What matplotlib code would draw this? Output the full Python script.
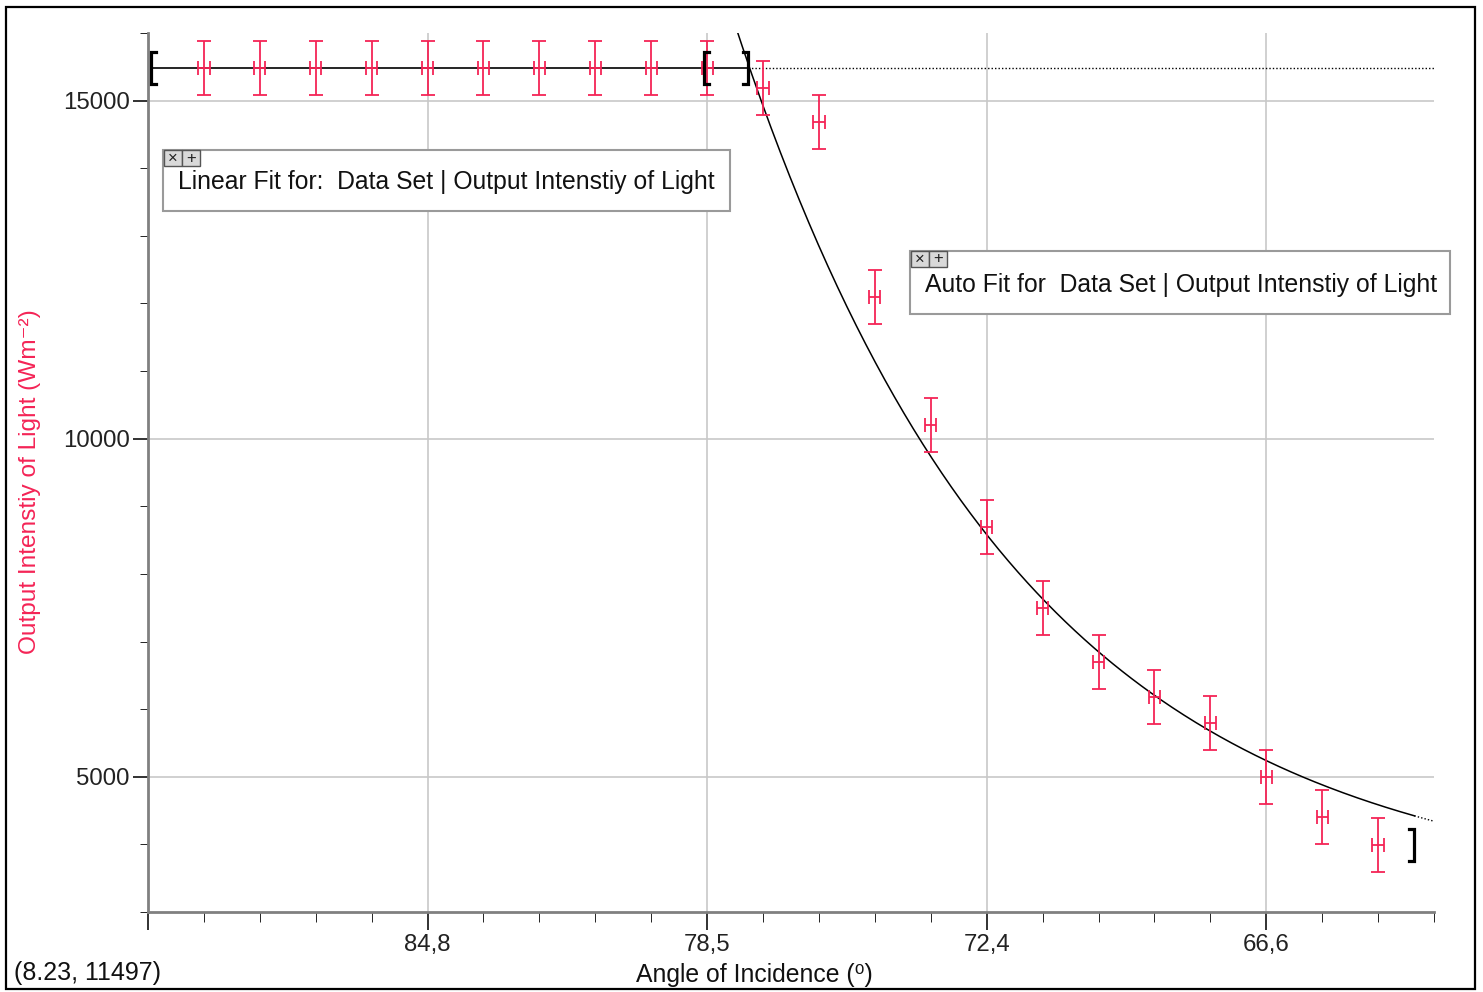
import matplotlib
matplotlib.use("Agg")
import matplotlib.pyplot as plt
from matplotlib.patches import Rectangle
import numpy as np

plt.rcParams['font.family'] = ['Liberation Sans', 'DejaVu Sans']

# data: point index along the run, intensity in W/m^2
x_idx = np.arange(1, 23)
intensity = np.array([15480, 15480, 15480, 15480, 15480, 15480, 15480, 15480, 15480, 15480,
                      15190, 14680, 12090, 10200, 8695, 7500, 6700, 6180, 5790, 4990,
                      4400, 3990])
y_err = 400
x_err = 0.1

tick_pos = [0, 5, 10, 15, 20]
tick_labels = ['', '84,8', '78,5', '72,4', '66,6']

# fit results
lin_level = 15480
lin_range = (0.05, 10.73)
auto_A, auto_C, auto_B = 100000, 0.195, 3215
auto_range = (9.95, 22.65)

red = '#f42456'
W, H = 1483, 992

fig = plt.figure(figsize=(W / 100, H / 100), dpi=100)
ax = fig.add_axes([148 / W, 1 - 912 / H, (1434 - 148) / W, (912 - 33) / H])
ax.set_xlim(0, 23)
ax.set_ylim(3000, 16000)

ax.set_xticks(tick_pos)
ax.set_xticklabels(tick_labels)
ax.set_xticks(np.arange(0, 24), minor=True)
ax.set_yticks([5000, 10000, 15000])
ax.set_yticks(np.arange(3000, 16001, 1000), minor=True)
ax.tick_params(axis='both', labelsize=17.3, colors='#222222', width=1.3)
ax.tick_params(axis='x', which='major', length=13, pad=3)
ax.tick_params(axis='x', which='minor', length=7)
ax.tick_params(axis='y', which='major', length=11, pad=2)
ax.tick_params(axis='y', which='minor', length=6)
ax.grid(True, which='major', color='#c8c8c8', lw=1.2)
ax.set_axisbelow(True)
for s in ['top', 'right']:
    ax.spines[s].set_visible(False)
for s in ['left', 'bottom']:
    ax.spines[s].set_color('#808080')
    ax.spines[s].set_linewidth(2)

# linear fit: solid inside its range, dotted beyond
ax.plot(lin_range, [lin_level, lin_level], color='black', lw=1.2, zorder=3)
ax.plot([lin_range[1], 23], [lin_level, lin_level], color='black', lw=1, ls=(0, (1, 1.5)), zorder=3)

# auto fit curve
xs = np.linspace(auto_range[0], auto_range[1], 300)
ax.plot(xs, auto_A * np.exp(-auto_C * xs) + auto_B, color='black', lw=1.1, zorder=3)
xd = np.linspace(auto_range[1], 23, 20)
ax.plot(xd, auto_A * np.exp(-auto_C * xd) + auto_B, color='black', lw=1, ls=(0, (1, 1.5)), zorder=3)

ax.errorbar(x_idx, intensity, yerr=y_err, fmt='none', ecolor=red, elinewidth=1.3,
            capsize=5, capthick=1.3, zorder=4)
ax.errorbar(x_idx, intensity, xerr=x_err, fmt='none', ecolor=red, elinewidth=1.3,
            capsize=5, capthick=1.3, zorder=4)


def bracket(x, y, side):
    h, w = 240, 0.09
    d = w if side == 'left' else -w
    ax.plot([x + d, x, x, x + d], [y + h, y + h, y - h, y - h], color='black',
            lw=2.3, solid_joinstyle='miter', zorder=5, clip_on=False)


bracket(lin_range[0], lin_level, 'left')
bracket(lin_range[1], lin_level, 'right')
bracket(auto_range[0], lin_level, 'left')
bracket(auto_range[1], intensity[-1], 'right')


def px(x, y):
    return x / W, 1 - y / H


def fit_box(x0, y0, x1, y1, text):
    fig.add_artist(Rectangle(px(x0, y1), (x1 - x0) / W, (y1 - y0) / H, transform=fig.transFigure,
                             facecolor='white', edgecolor='#9a9a9a', lw=1.5, zorder=6))
    for i, sym in enumerate(['×', '+']):
        bx = x0 + 1 + i * 18
        fig.add_artist(Rectangle(px(bx, y0 + 16), 18 / W, 16 / H, transform=fig.transFigure,
                                 facecolor='#d9d9d9', edgecolor='#555555', lw=1, zorder=7))
        fig.text(*px(bx + 9, y0 + 8), sym, ha='center', va='center', fontsize=12,
                 color='#222222', zorder=8)
    fig.text(*px(x0 + 15, (y0 + y1) / 2 + 2), text, ha='left', va='center', fontsize=17.8,
             color='#111111', zorder=8)


fit_box(163, 150, 730, 211, 'Linear Fit for:  Data Set | Output Intenstiy of Light')
fit_box(910, 251, 1450, 314, 'Auto Fit for  Data Set | Output Intenstiy of Light')

fig.text(*px(30, 482), 'Output Intenstiy of Light (Wm⁻²)', rotation=90, ha='center',
         va='center', fontsize=17.6, color=red)
fig.text(*px(754, 975), 'Angle of Incidence (⁰)', ha='center', va='center', fontsize=17.8,
         color='#111111')
fig.text(*px(14, 973), '(8.23, 11497)', ha='left', va='center', fontsize=18,
         color='#111111')

fig.add_artist(Rectangle(px(6, 989), 1469 / W, 982 / H, transform=fig.transFigure,
                         facecolor='none', edgecolor='black', lw=1.6, zorder=9))

fig.savefig('out.png', dpi=100)
